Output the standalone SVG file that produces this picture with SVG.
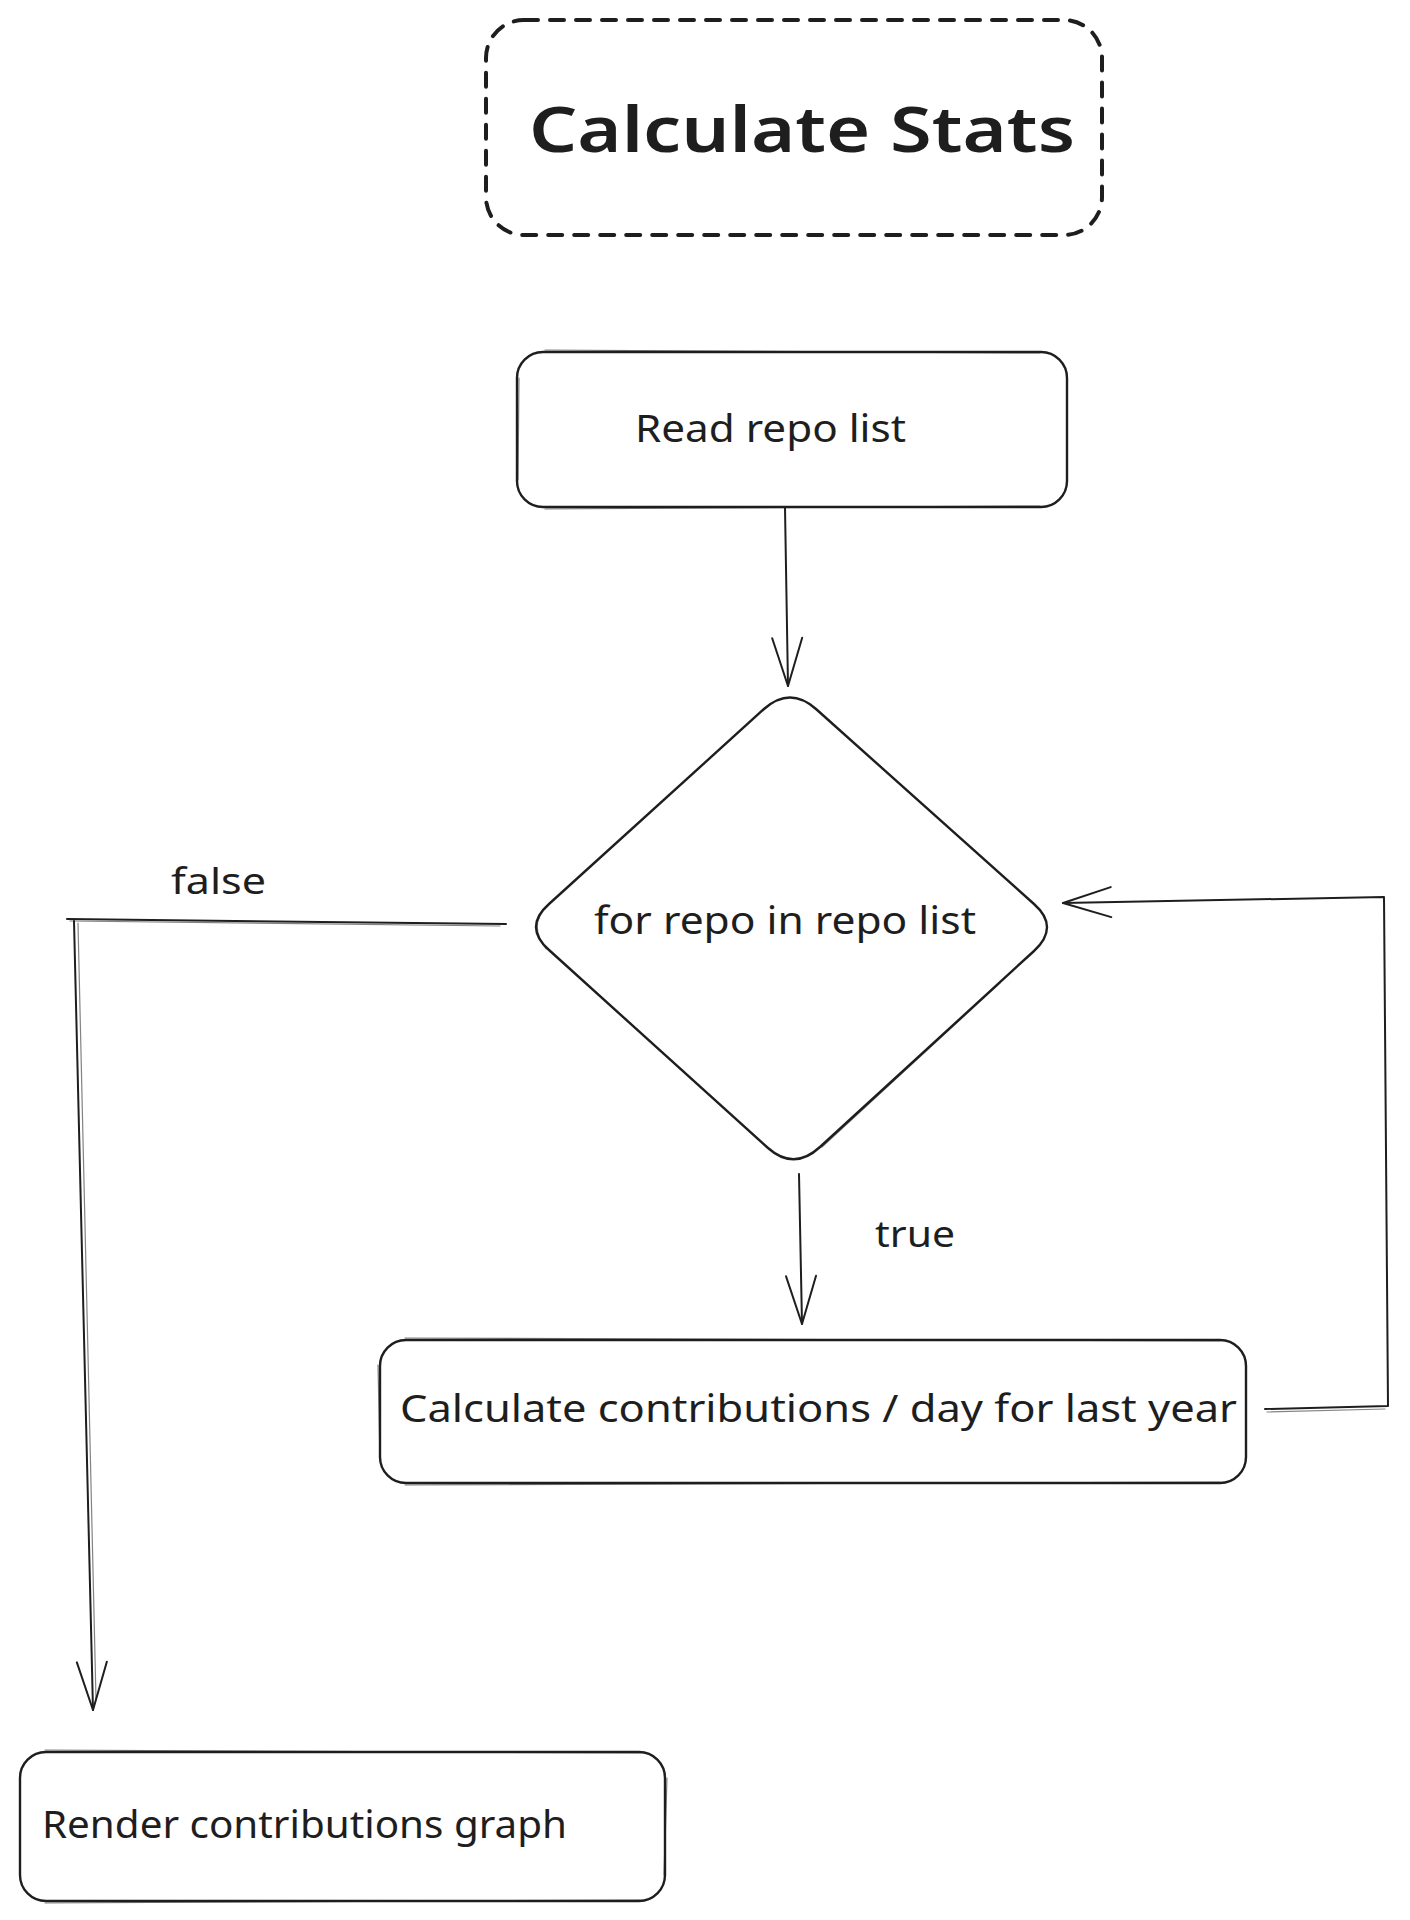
<svg xmlns="http://www.w3.org/2000/svg" width="1410" height="1920" viewBox="0 0 1410 1920">
  <style>
    .shape { fill: none; stroke: #1e1e1e; stroke-width: 2.4; stroke-linejoin: round; stroke-linecap: round; }
    .sketch { fill: none; stroke: #1e1e1e; stroke-width: 1.2; opacity: 0.55; stroke-linecap: round; }
    .title { fill: none; stroke: #1e1e1e; stroke-width: 4; stroke-dasharray: 14 12; stroke-linecap: round; }
    .conn { fill: none; stroke: #1e1e1e; stroke-width: 2; stroke-linecap: round; stroke-linejoin: round; }
    .lbl { font-family: "Noto Sans", "Liberation Sans", sans-serif; fill: #1e1e1e; }
  </style>
  <defs>
    <marker id="arrow" markerUnits="userSpaceOnUse" markerWidth="52" markerHeight="36" viewBox="0 0 52 36" refX="50" refY="18" orient="auto">
      <path d="M2,3 L50,18 L2,33" fill="none" stroke="#1e1e1e" stroke-width="2" stroke-linecap="round" stroke-linejoin="round"/>
    </marker>
  </defs>
  <rect width="1410" height="1920" fill="#ffffff"/>

  <g id="title">
    <rect class="title" x="486" y="20" width="616" height="215" rx="38" ry="38"/>
    <text class="lbl" x="529" y="152" font-size="64" font-weight="600" textLength="546" lengthAdjust="spacingAndGlyphs">Calculate Stats</text>
  </g>

  <g id="read-repo-list">
    <rect class="shape" x="517" y="352" width="550" height="155" rx="26" ry="26"/>
    <path class="sketch" d="M545,350 L1040,353 M519,378 L518,480 M545,509 L1040,506"/>
    <text class="lbl" x="635" y="442" font-size="38" textLength="271" lengthAdjust="spacingAndGlyphs">Read repo list</text>
  </g>

  <g id="for-repo-loop">
    <path class="shape" d="M764,709 Q790,686 816,709 L1034,904 Q1060,927 1034,951 L820,1147 Q794,1171 768,1148 L549,950 Q523,927 549,904 Z"/>
    <path class="sketch" d="M547,906 Q528,925 546,949 M1000,983 L822,1147"/>
    <text class="lbl" x="594" y="934" font-size="38" textLength="382" lengthAdjust="spacingAndGlyphs">for repo in repo list</text>
  </g>

  <g id="calculate-contributions">
    <rect class="shape" x="380" y="1340" width="866" height="143" rx="26" ry="26"/>
    <path class="sketch" d="M405,1338 L1220,1341 M405,1485 L1220,1482 M378,1365 L380,1460"/>
    <text class="lbl" x="400" y="1422" font-size="38" textLength="837" lengthAdjust="spacingAndGlyphs">Calculate contributions / day for last year</text>
  </g>

  <g id="render-graph">
    <rect class="shape" x="20" y="1752" width="645" height="149" rx="26" ry="26"/>
    <path class="sketch" d="M45,1750 L640,1753 M45,1903 L640,1900 M667,1778 L664,1875"/>
    <text class="lbl" x="42" y="1838" font-size="38" textLength="525" lengthAdjust="spacingAndGlyphs">Render contributions graph</text>
  </g>

  <g id="connectors">
    <path class="conn" d="M785,508 L788,686" marker-end="url(#arrow)"/>
    <path class="conn" d="M506,924 L67,919"/>
    <path class="sketch" d="M500,926 L70,921"/>
    <path class="conn" d="M74,921 L93,1710" marker-end="url(#arrow)"/>
    <path class="sketch" d="M78,923 L96,1700"/>
    <path class="conn" d="M799,1174 L802,1324" marker-end="url(#arrow)"/>
    <path class="conn" d="M1265,1409 L1388,1406 L1384,897 L1063,903" marker-end="url(#arrow)"/>
    <path class="sketch" d="M1267,1412 L1385,1409"/>
    <text class="lbl" x="171" y="894" font-size="36" textLength="95" lengthAdjust="spacingAndGlyphs">false</text>
    <text class="lbl" x="875" y="1247" font-size="36" textLength="80" lengthAdjust="spacingAndGlyphs">true</text>
  </g>
</svg>
